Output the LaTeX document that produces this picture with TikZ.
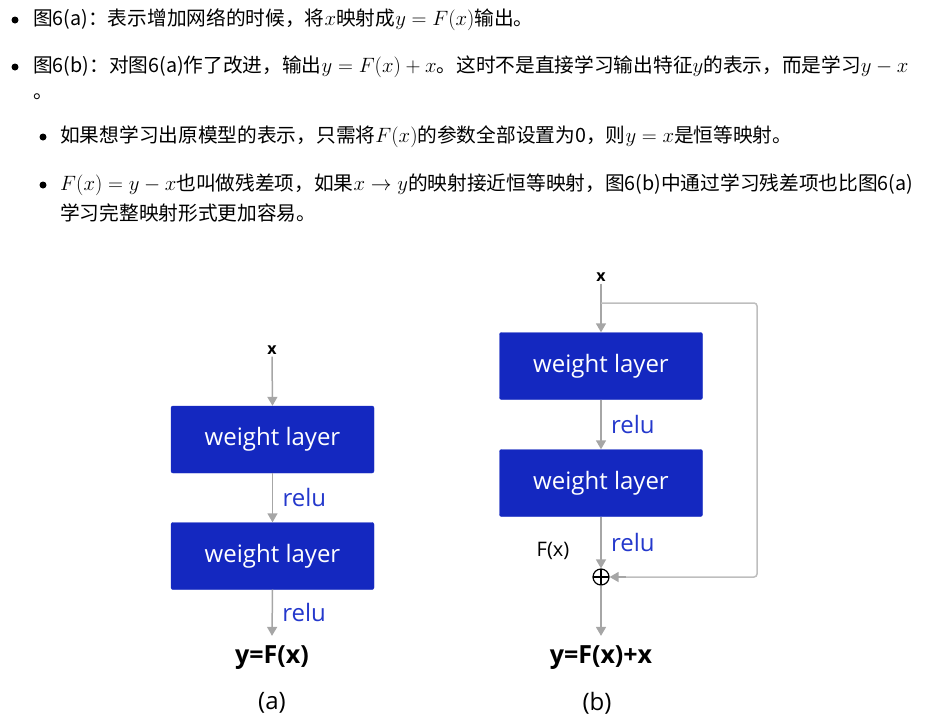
\documentclass[tikz,border=0pt]{standalone}
\usepackage{fontspec}
\setsansfont{Open Sans}
\newfontfamily\cjk{Noto Sans CJK SC}
\usepackage{tikz}
\usetikzlibrary{positioning, arrows.meta, calc}

\definecolor{boxblue}{RGB}{20,40,192}
\definecolor{relublue}{RGB}{36,56,204}
\definecolor{arrowgray}{RGB}{166,166,166}
\definecolor{skipgray}{RGB}{190,190,190}

% math a bit larger than the running text
\newcommand{\mth}[1]{{\fontsize{22.3}{23}\selectfont$#1$}}

\begin{document}
\begin{tikzpicture}[
        x=1pt, y=-1pt,
        % Define styles for the nodes
        txt/.style={anchor=west, inner sep=0pt, font=\cjk\fontsize{19.7}{22}\selectfont},
        dot/.style={circle, fill=black, inner sep=0pt, minimum size=7pt},
        layer/.style={draw=boxblue, fill=boxblue, rounded corners=2pt, minimum width=203pt, minimum height=67pt, text=white, font=\sffamily\fontsize{24}{26}\selectfont},
        inlabel/.style={font=\sffamily\bfseries\fontsize{16}{18}\selectfont, inner sep=2pt},
        outlabel/.style={font=\sffamily\bfseries\fontsize{25}{27}\selectfont, inner sep=2pt},
        caption/.style={font=\sffamily\fontsize{24}{26}\selectfont},
        relu/.style={right, xshift=6pt, text=relublue, font=\sffamily\fontsize{24}{26}\selectfont},
        sumnode/.style={circle, draw, line width=1.2pt, minimum size=16pt, inner sep=0pt,
            path picture={\draw[line width=1.2pt] (path picture bounding box.north) -- (path picture bounding box.south)
                (path picture bounding box.west) -- (path picture bounding box.east);}},
        arrow/.style={-{Triangle[length=9pt, width=10pt]}, draw=arrowgray, line width=1.5pt},
        skip/.style={draw=skipgray, line width=1.5pt, rounded corners=3pt}
    ]
    \useasboundingbox (0,0) rectangle (934,723);

    % Text above the figure
    \node (b1) [dot] at (15,20) {};
    \node (t1) [txt] at (33,20) {图6(a)：表示增加网络的时候，将\mth{x}映射成\mth{y=F(x)}输出。};
    \node (b2) [dot] at (15,67) {};
    \node (t2) [txt] at (33,67) {图6(b)：对图6(a)作了改进，输出\mth{y=F(x)+x}。这时不是直接学习输出特征\mth{y}的表示，而是学习\mth{y-x}};
    \node (t2b) [txt] at (33,97) {。};
    \node (b3) [dot] at (43,137) {};
    \node (t3) [txt] at (60,137) {如果想学习出原模型的表示，只需将\mth{F(x)}的参数全部设置为0，则\mth{y=x}是恒等映射。};
    \node (b4) [dot] at (43,185) {};
    \node (t4) [txt] at (60,185) {\mth{F(x)=y-x}也叫做残差项，如果\mth{x\rightarrow y}的映射接近恒等映射，图6(b)中通过学习残差项也比图6(a)};
    \node (t4b) [txt] at (60,213) {学习完整映射形式更加容易。};

    % (a) plain block
    \node (xa) [inlabel] at (272,350) {x};
    \node (wa1) [layer] at (272.5,439.5) {weight layer};
    \node (wa2) [layer] at (272.5,556) {weight layer};
    \node (ya) [outlabel] at (272,658) {y=F(x)};
    \node (capa) [caption] at (272,703) {(a)};
    \draw [arrow] (xa.south) -- (wa1.north);
    \draw [arrow] (wa1.south) -- node[relu] {relu} (wa2.north);
    \draw [arrow] (wa2.south) -- node[relu] {relu} ($(ya.north)+(0,-8)$);

    % (b) residual block
    \node (xb) [inlabel] at (601,277) {x};
    \node (wb1) [layer] at (601,366) {weight layer};
    \node (wb2) [layer] at (601,483) {weight layer};
    \node (sum) [sumnode] at (601,577) {};
    \node (fx) [font=\sffamily\fontsize{20}{22}\selectfont] at (553,551) {F(x)};
    \node (yb) [outlabel] at (601,658) {y=F(x)+x};
    \node (capb) [caption] at (597,703) {(b)};
    \draw [arrow] (xb.south) -- (wb1.north);
    \draw [arrow] (wb1.south) -- node[relu] {relu} (wb2.north);
    \draw [arrow] (wb2.south) -- node[relu] {relu} (sum.north);
    \draw [arrow] (sum.south) -- ($(yb.north)+(0,-8)$);

    % skip connection
    \coordinate (branch) at (601,303);
    \coordinate (corner) at (757,303);
    \draw [skip] (branch) -- (corner) |- ($(sum.east)+(14,0)$);
    \draw [arrow] ($(sum.east)+(16,0)$) -- (sum.east);

\end{tikzpicture}
\end{document}
